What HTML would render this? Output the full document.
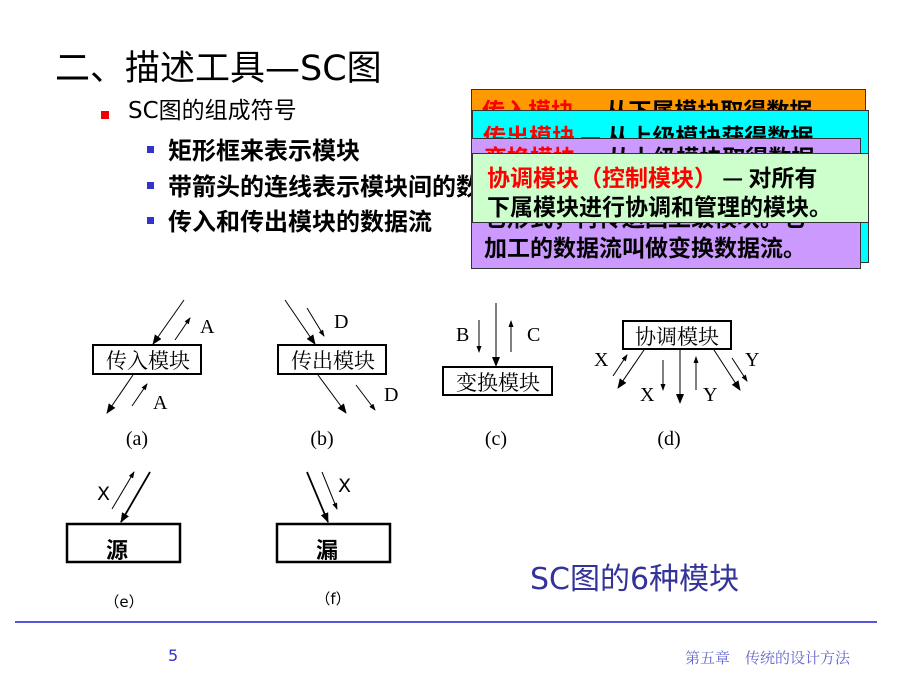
<!DOCTYPE html>
<html><head><meta charset="utf-8">
<style>
html,body{margin:0;padding:0;background:#fff;}
body{width:900px;height:675px;position:relative;overflow:hidden;font-family:"DejaVu Sans","Noto Sans CJK SC",sans-serif;}
.abs{position:absolute;white-space:nowrap;}
.box{position:absolute;border:1px solid #333;overflow:hidden;font-family:"Noto Sans CJK SC",sans-serif;font-weight:bold;font-size:23px;line-height:30px;color:#000;box-sizing:border-box;white-space:nowrap;}
.r{color:#f00;}
.b{font-family:"Noto Sans CJK SC",sans-serif;font-weight:bold;font-size:24px;line-height:30px;}
</style></head><body>
<div class="abs" style="left:55px;top:49px;font-size:35px;line-height:40px;font-family:'DejaVu Sans','Noto Sans CJK SC',sans-serif;">二、描述工具—SC图</div>
<div class="abs" style="left:101px;top:111px;width:8px;height:8px;background:#e00;"></div>
<div class="abs" style="left:128px;top:96px;font-size:23px;line-height:30px;">SC图的组成符号</div>
<div class="abs" style="left:147px;top:146px;width:7px;height:7px;background:#3333cc;"></div>
<div class="abs b" style="left:168px;top:134px;">矩形框来表示模块</div>
<div class="abs" style="left:147px;top:182px;width:7px;height:7px;background:#3333cc;"></div>
<div class="abs b" style="left:168px;top:170px;">带箭头的连线表示模块间的数</div>
<div class="abs" style="left:147px;top:217px;width:7px;height:7px;background:#3333cc;"></div>
<div class="abs b" style="left:168px;top:205px;">传入和传出模块的数据流</div>

<div class="box" style="left:471px;top:89px;width:395px;height:60px;background:#ff9900;padding:4px 0 0 10px;"><span class="r">传入模块</span> — 从下属模块取得数据</div>
<div class="box" style="left:472px;top:110px;width:397px;height:153px;background:#00ffff;padding:9px 0 0 10px;"><span class="r">传出模块</span> — 从上级模块获得数据</div>
<div class="box" style="left:471px;top:138px;width:390px;height:131px;background:#cc99ff;padding:2px 0 0 12px;line-height:30px;"><span class="r">变换模块</span> — 从上级模块取得数据，<br>进行特定的处理，转换成其<br>它形式，再传送回上级模块。它<br>加工的数据流叫做变换数据流。</div>
<div class="box" style="left:472px;top:153px;width:397px;height:70px;background:#ccffcc;padding:8px 0 0 14px;line-height:29px;"><span class="r">协调模块（控制模块）</span> — 对所有<br>下属模块进行协调和管理的模块。</div>

<svg class="abs" style="left:0;top:0" width="900" height="675" viewBox="0 0 900 675">
<defs>
<marker id="big" markerWidth="10" markerHeight="8" refX="9" refY="4" orient="auto" markerUnits="userSpaceOnUse"><path d="M0,0 L10,4 L0,8 Z" fill="#000"/></marker>
<marker id="sm" markerWidth="7" markerHeight="5" refX="6" refY="2.5" orient="auto" markerUnits="userSpaceOnUse"><path d="M0,0 L7,2.5 L0,5 Z" fill="#000"/></marker>
</defs>
<g fill="none" stroke="#000" stroke-width="1">
<rect x="93" y="345" width="108" height="29" stroke-width="2"/>
<line x1="184" y1="300" x2="153" y2="344" marker-end="url(#big)"/>
<line x1="175" y1="340" x2="190" y2="318" marker-end="url(#sm)"/>
<line x1="133" y1="375" x2="107" y2="413" marker-end="url(#big)"/>
<line x1="132" y1="406" x2="147" y2="384" marker-end="url(#sm)"/>
<rect x="278" y="345" width="108" height="29" stroke-width="2"/>
<line x1="285" y1="300" x2="315" y2="344" marker-end="url(#big)"/>
<line x1="307" y1="308" x2="324" y2="336" marker-end="url(#sm)"/>
<line x1="318" y1="375" x2="346" y2="413" marker-end="url(#big)"/>
<line x1="356" y1="385" x2="375" y2="410" marker-end="url(#sm)"/>
<rect x="443" y="367" width="109" height="28" stroke-width="2"/>
<line x1="496" y1="303" x2="496" y2="366" marker-end="url(#big)"/>
<line x1="479" y1="320" x2="479" y2="352" marker-end="url(#sm)"/>
<line x1="511" y1="352" x2="511" y2="321" marker-end="url(#sm)"/>
<rect x="623" y="321" width="108" height="28" stroke-width="2"/>
<line x1="644" y1="350" x2="618" y2="388" marker-end="url(#big)"/>
<line x1="613" y1="376" x2="627" y2="355" marker-end="url(#sm)"/>
<line x1="663" y1="360" x2="663" y2="390" marker-end="url(#sm)"/>
<line x1="680" y1="349" x2="680" y2="403" marker-end="url(#big)"/>
<line x1="696" y1="390" x2="696" y2="357" marker-end="url(#sm)"/>
<line x1="714" y1="350" x2="740" y2="390" marker-end="url(#big)"/>
<line x1="732" y1="358" x2="747" y2="381" marker-end="url(#sm)"/>
<rect x="67" y="524" width="113" height="38" stroke-width="2.5"/>
<line x1="150" y1="472" x2="121" y2="522" stroke-width="1.8" marker-end="url(#big)"/>
<line x1="112" y1="509" x2="134" y2="472" marker-end="url(#sm)"/>
<rect x="277" y="524" width="113" height="38" stroke-width="2.5"/>
<line x1="307" y1="472" x2="328" y2="522" stroke-width="1.8" marker-end="url(#big)"/>
<line x1="322" y1="472" x2="337" y2="509" marker-end="url(#sm)"/>
</g>
<g font-family="Liberation Serif, Noto Serif CJK SC, serif" font-size="20" fill="#000">
<text x="148" y="368" text-anchor="middle" font-family="Noto Serif CJK SC, serif" font-size="21">传入模块</text>
<text x="333" y="368" text-anchor="middle" font-family="Noto Serif CJK SC, serif" font-size="21">传出模块</text>
<text x="498" y="390" text-anchor="middle" font-family="Noto Serif CJK SC, serif" font-size="21">变换模块</text>
<text x="677" y="344" text-anchor="middle" font-family="Noto Serif CJK SC, serif" font-size="21">协调模块</text>
<text x="200" y="333">A</text><text x="153" y="409">A</text>
<text x="334" y="328">D</text><text x="384" y="401">D</text>
<text x="456" y="341">B</text><text x="527" y="341">C</text>
<text x="594" y="366">X</text><text x="640" y="401">X</text><text x="703" y="401">Y</text><text x="745" y="366">Y</text>
<text x="137" y="445" text-anchor="middle">(a)</text>
<text x="322" y="445" text-anchor="middle">(b)</text>
<text x="496" y="445" text-anchor="middle">(c)</text>
<text x="669" y="445" text-anchor="middle">(d)</text>
</g>
<g font-family="DejaVu Sans, Noto Sans CJK SC, sans-serif" fill="#000">
<text x="97" y="500" font-size="19">X</text>
<text x="338" y="492" font-size="19">X</text>
<text x="117" y="558" text-anchor="middle" font-size="22" font-weight="bold" font-family="Noto Sans CJK SC, sans-serif">源</text>
<text x="327" y="558" text-anchor="middle" font-size="22" font-weight="bold" font-family="Noto Sans CJK SC, sans-serif">漏</text>
<text x="124" y="607" text-anchor="middle" font-size="15">（e）</text>
<text x="333" y="604" text-anchor="middle" font-size="15">（f）</text>
<text x="530" y="589" font-size="30" fill="#333399">SC图的6种模块</text>
<text x="168" y="661" font-size="16" fill="#3333cc">5</text>
<text x="850" y="663" text-anchor="end" font-size="15" fill="#6666cc" font-family="Noto Serif CJK SC, serif">第五章　传统的设计方法</text>
</g>
<line x1="15" y1="622" x2="877" y2="622" stroke="#5555dd" stroke-width="2"/>
</svg>
</body></html>
